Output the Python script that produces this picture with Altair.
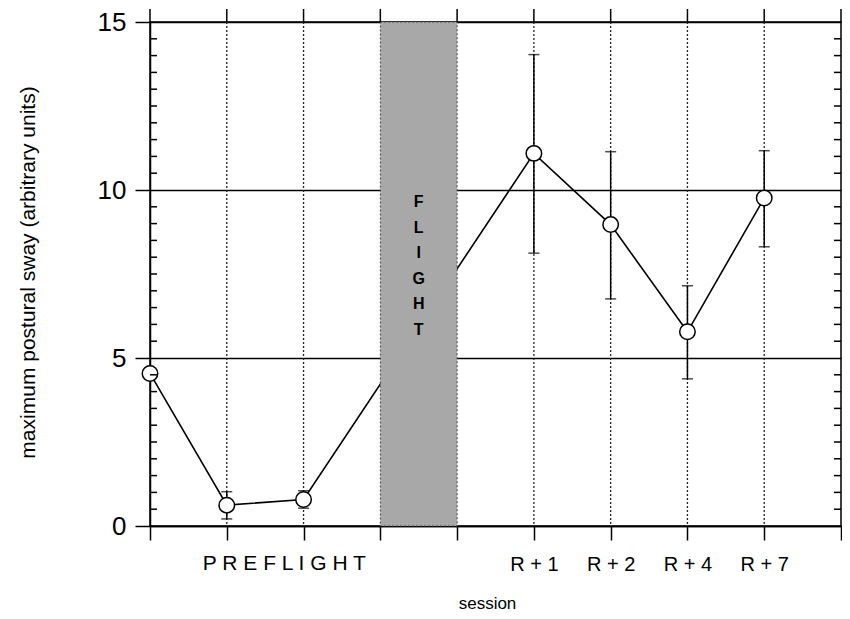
import altair as alt
import pandas as pd

# ---- data ----
session_idx = [0, 1, 2, 5, 6, 7, 8]
sway = [4.54, 0.62, 0.79, 11.09, 8.97, 5.78, 9.76]

err_idx = [1, 2, 5, 6, 7, 8]
err_lo = [0.21, 0.53, 8.12, 6.76, 4.38, 8.31]
err_hi = [1.02, 1.05, 14.03, 11.14, 7.15, 11.17]

tick_positions = [0, 1, 2, 3, 4, 5, 6, 7, 8, 9]
dotted_grid = [1, 2, 5, 6, 7, 8]
r_positions = [5, 6, 7, 8]
r_labels = ["R + 1", "R + 2", "R + 4", "R + 7"]
minor_y = [v / 2 for v in range(1, 30) if v % 10 != 0]

flight_start, flight_end = 3, 4
preflight_center = 1.75

FONT = "Liberation Sans"
W, H = 691, 504

df = pd.DataFrame({"s": session_idx, "v": sway})
edf = pd.DataFrame({"s": err_idx, "lo": err_lo, "hi": err_hi})
tdf = pd.DataFrame({"s": tick_positions})
gdf = pd.DataFrame({"s": dotted_grid})
mdf = pd.DataFrame({"y": minor_y})
fdf = pd.DataFrame({"a": [flight_start], "b": [flight_end], "lo": [0], "hi": [15]})

label_expr = " : ".join(
    [f"datum.value == {p} ? '{l}'" for p, l in zip(r_positions, r_labels)]
) + " : ''"

xscale = alt.Scale(domain=[0, 9], nice=False, zero=False)
yscale = alt.Scale(domain=[0, 15], nice=False)

x_axis = alt.Axis(
    values=tick_positions, labelExpr=label_expr, tickSize=14, tickColor="black",
    tickWidth=1.5, domainColor="black", domainWidth=1.5, labelFontSize=20,
    labelFont=FONT, labelColor="black", labelPadding=14, grid=False,
    title="session", titleFont=FONT, titleFontSize=17, titleFontWeight="normal",
    titleColor="black", titleX=337, titleY=69, titleBaseline="top",
)
y_axis = alt.Axis(
    values=[0, 5, 10, 15], tickSize=15, tickColor="black", tickWidth=1.5,
    domainColor="black", domainWidth=1.5, labelFontSize=26, labelFont=FONT,
    labelColor="black", labelPadding=9, grid=True, gridColor="black",
    gridWidth=1.5, title="maximum postural sway (arbitrary units)",
    titleFont=FONT, titleFontSize=21, titleFontWeight="normal",
    titleColor="black", titleX=-122, titleY=250, titleBaseline="middle",
)

base_line = alt.Chart(df).mark_line(color="black", strokeWidth=1.6).encode(
    x=alt.X("s:Q", scale=xscale, axis=x_axis),
    y=alt.Y("v:Q", scale=yscale, axis=y_axis),
)

vgrid = alt.Chart(gdf).mark_rule(color="#222222", strokeWidth=1.3, strokeDash=[2, 2]).encode(
    x=alt.X("s:Q", scale=xscale), y=alt.value(0), y2=alt.value(H)
)

top_ticks = alt.Chart(tdf).mark_rule(color="black", strokeWidth=1.5).encode(
    x=alt.X("s:Q", scale=xscale), y=alt.value(-13), y2=alt.value(0)
)

minor_left = alt.Chart(mdf).mark_rule(color="black", strokeWidth=1.5).encode(
    y=alt.Y("y:Q", scale=yscale), x=alt.value(0), x2=alt.value(7)
)
minor_right = alt.Chart(mdf).mark_rule(color="black", strokeWidth=1.5).encode(
    y=alt.Y("y:Q", scale=yscale), x=alt.value(W - 7), x2=alt.value(W)
)

err_rule = alt.Chart(edf).mark_rule(color="black", strokeWidth=1.5).encode(
    x=alt.X("s:Q", scale=xscale), y=alt.Y("lo:Q", scale=yscale), y2="hi:Q"
)
cap_lo = alt.Chart(edf).mark_tick(color="black", orient="horizontal", size=11, thickness=1.5).encode(
    x=alt.X("s:Q", scale=xscale), y=alt.Y("lo:Q", scale=yscale)
)
cap_hi = alt.Chart(edf).mark_tick(color="black", orient="horizontal", size=11, thickness=1.5).encode(
    x=alt.X("s:Q", scale=xscale), y=alt.Y("hi:Q", scale=yscale)
)

points = alt.Chart(df).mark_point(
    shape="circle", filled=True, fill="white", stroke="black", strokeWidth=1.5,
    size=240, opacity=1,
).encode(x=alt.X("s:Q", scale=xscale), y=alt.Y("v:Q", scale=yscale))

flight_box = alt.Chart(fdf).mark_rect(
    fill="#a8a8a8", stroke="#444444", strokeWidth=1, strokeDash=[2, 2]
).encode(
    x=alt.X("a:Q", scale=xscale), x2="b:Q",
    y=alt.Y("lo:Q", scale=yscale), y2="hi:Q",
)

flight_text = alt.Chart(pd.DataFrame({"s": [3.5], "t": ["F\nL\nI\nG\nH\nT"]})).mark_text(
    lineBreak="\n", lineHeight=25.5, fontSize=16, fontWeight="bold", font=FONT,
    color="black", baseline="middle", align="center",
).encode(x=alt.X("s:Q", scale=xscale), y=alt.value(180), text="t:N")

preflight = alt.Chart(pd.DataFrame({"s": [preflight_center], "t": ["P R E F L I G H T"]})).mark_text(
    fontSize=21, font=FONT, color="black", baseline="top", align="center",
).encode(x=alt.X("s:Q", scale=xscale), y=alt.value(531), text="t:N")

chart = alt.layer(
    base_line, vgrid, err_rule, cap_lo, cap_hi, flight_box, points,
    flight_text, top_ticks, minor_left, minor_right, preflight,
).properties(
    width=W, height=H,
    autosize=alt.AutoSizeParams(type="none"),
    padding={"left": 142, "top": 14, "right": 1, "bottom": 85},
    background="white",
).configure_view(stroke="black", strokeWidth=1.5)

chart.save("out.html", embed_options={"renderer": "svg", "actions": False})
